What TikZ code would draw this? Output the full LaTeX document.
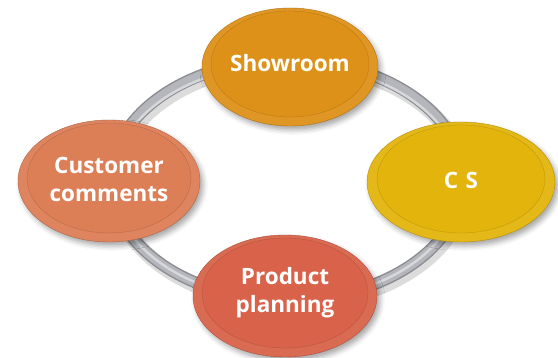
\documentclass[tikz,border=0pt]{standalone}
\usepackage{fontspec}
\setmainfont{Open Sans}
\usetikzlibrary{shapes.geometric, shadows.blur}

\definecolor{showC}{RGB}{221,145,24}
\definecolor{csC}{RGB}{226,180,12}
\definecolor{custC}{RGB}{220,126,86}
\definecolor{prodC}{RGB}{216,99,74}
\definecolor{ringC}{RGB}{180,182,188}

\begin{document}
\begin{tikzpicture}[
  x=1pt, y=1pt,
  disc/.style={ellipse, draw=#1!80!black, line width=0.4pt, fill=#1!95!white,
    inner sep=0pt,
    blur shadow={shadow xshift=3pt, shadow yshift=-4pt, shadow blur radius=5pt, shadow opacity=35}},
  face/.style={draw=#1!82!black, line width=0.3pt, fill=#1},
  label/.style={text=white, font=\bfseries\fontsize{22.5}{28}\selectfont, align=center},
  tube/.style={line width=#1}
]
\useasboundingbox (0,0) rectangle (558,358);

% ring behind the discs
\coordinate (hub) at (287,178);
\draw[tube=15pt, black!30, opacity=.45] ([shift={(3,-4)}]hub) ellipse [x radius=176pt, y radius=120pt];
\draw[tube=12pt, ringC!78!black] (hub) ellipse [x radius=176pt, y radius=120pt];
\draw[tube=9pt, ringC] (hub) ellipse [x radius=176pt, y radius=120pt];
\draw[tube=2.5pt, ringC!55!white] ([shift={(0,-2)}]hub) ellipse [x radius=174pt, y radius=118pt];

% discs
\node[disc=showC, minimum width=176pt, minimum height=118pt] (show) at (290,291) {};
\node[disc=csC, minimum width=188pt, minimum height=120pt] (cs) at (461,176) {};
\node[disc=custC, minimum width=182pt, minimum height=122pt] (cust) at (109,177) {};
\node[disc=prodC, minimum width=184pt, minimum height=122pt] (prod) at (285,62) {};

\draw[face=showC] ([yshift=3]show.center) ellipse [x radius=79pt, y radius=53pt];
\draw[face=csC] ([yshift=3]cs.center) ellipse [x radius=84pt, y radius=54pt];
\draw[face=custC] ([yshift=3]cust.center) ellipse [x radius=82pt, y radius=55pt];
\draw[face=prodC] ([yshift=3]prod.center) ellipse [x radius=83pt, y radius=55pt];

% labels
\node[label] (showT) at ([yshift=4]show.center) {Showroom};
\node[label] (csT) at ([yshift=2]cs.center) {C\,\,S};
\node[label] (custT) at ([yshift=2]cust.center) {Customer\\comments};
\node[label] (prodT) at ([yshift=3]prod.center) {Product\\planning};
\end{tikzpicture}
\end{document}
